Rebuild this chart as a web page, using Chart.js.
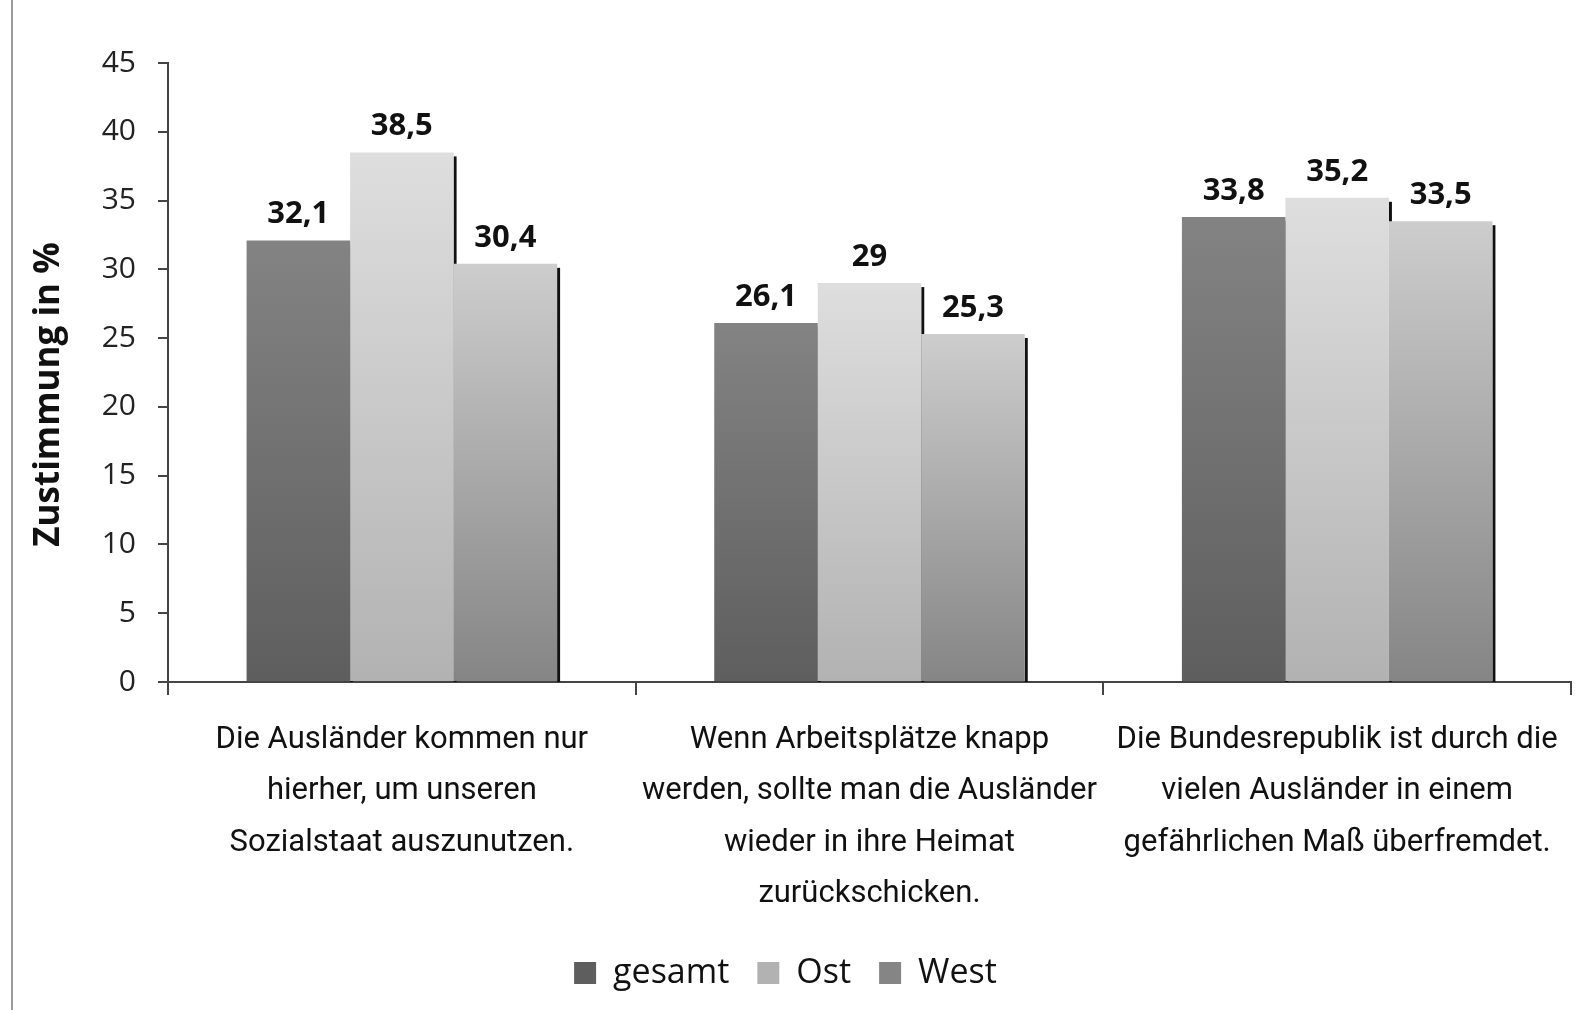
<!DOCTYPE html>
<html>
<head>
<meta charset="utf-8">
<script src="https://cdn.jsdelivr.net/npm/chart.js@4.4.1/dist/chart.umd.min.js"></script>
<style>
  html, body { margin: 0; padding: 0; background: #fff; }
  #wrap { position: relative; width: 1575px; height: 1010px; }
</style>
</head>
<body>
<div id="wrap"><canvas id="chart"></canvas></div>
<script>
const categories = [
  ['Die Ausländer kommen nur', 'hierher, um unseren', 'Sozialstaat auszunutzen.'],
  ['Wenn Arbeitsplätze knapp', 'werden, sollte man die Ausländer', 'wieder in ihre Heimat', 'zurückschicken.'],
  ['Die Bundesrepublik ist durch die', 'vielen Ausländer in einem', 'gefährlichen Maß überfremdet.'],
];
const seriesNames = ['gesamt', 'Ost', 'West'];
const gesamt = [32.1, 26.1, 33.8];
const ost = [38.5, 29, 35.2];
const west = [30.4, 25.3, 33.5];
const yTicks = [0, 5, 10, 15, 20, 25, 30, 35, 40, 45];
const yTitle = 'Zustimmung in %';

// top / bottom / flat shades of the bars
const shades = [
  ['#838383', '#5e5e5e', '#6c6c6c'],
  ['#dedede', '#b2b2b2', '#d2d2d2'],
  ['#cdcdcd', '#858585', '#a8a8a8'],
];

const mainFont = '"Open Sans", "Noto Sans", sans-serif';
const narrowFont = 'Roboto, "Open Sans", sans-serif';

function barFill(idx) {
  return (ctx) => {
    const [top, bottom, mid] = shades[idx];
    if (ctx.type !== 'data') return mid;
    const y = ctx.chart.scales.y;
    if (!y) return mid;
    const y0 = y.getPixelForValue(ctx.raw);
    const y1 = y.getPixelForValue(0);
    if (!isFinite(y0) || !isFinite(y1) || y0 === y1) return mid;
    const g = ctx.chart.ctx.createLinearGradient(0, y0, 0, y1);
    g.addColorStop(0, top);
    g.addColorStop(1, bottom);
    return g;
  };
}

const frameLine = {
  id: 'frameLine',
  beforeDraw(chart) {
    const c = chart.ctx;
    c.save();
    c.strokeStyle = '#9a9a9a';
    c.lineWidth = 2;
    c.beginPath();
    c.moveTo(12, 0);
    c.lineTo(12, chart.height);
    c.stroke();
    c.restore();
  },
};

// dark shadow on the right side of every bar, painted before all bars
const barShadow = {
  id: 'barShadow',
  beforeDatasetsDraw(chart) {
    const c = chart.ctx;
    c.save();
    c.fillStyle = '#111';
    chart.data.datasets.forEach((ds, i) => {
      chart.getDatasetMeta(i).data.forEach((bar) => {
        const p = bar.getProps(['x', 'y', 'base', 'width'], true);
        c.fillRect(p.x + p.width / 2, p.y + 4, 3, p.base - p.y - 3);
      });
    });
    c.restore();
  },
};

const valueLabels = {
  id: 'valueLabels',
  afterDatasetsDraw(chart) {
    const c = chart.ctx;
    c.save();
    c.font = 'bold 31px ' + mainFont;
    c.fillStyle = '#111';
    c.textAlign = 'center';
    c.textBaseline = 'alphabetic';
    chart.data.datasets.forEach((ds, i) => {
      chart.getDatasetMeta(i).data.forEach((bar, j) => {
        const txt = String(ds.data[j]).replace('.', ',');
        c.fillText(txt, bar.x, bar.y - 17);
      });
    });
    c.restore();
  },
};

// axis title, sits a little below the middle of the axis like the original
const axisTitle = {
  id: 'axisTitle',
  afterDraw(chart) {
    const c = chart.ctx;
    const area = chart.chartArea;
    c.save();
    c.translate(49, (area.top + area.bottom) / 2 + 22);
    c.rotate(-Math.PI / 2);
    c.font = 'bold 35px ' + mainFont;
    c.fillStyle = '#111';
    c.textAlign = 'center';
    c.textBaseline = 'middle';
    c.fillText(yTitle, 0, 0);
    c.restore();
  },
};

new Chart(document.getElementById('chart'), {
  type: 'bar',
  data: {
    labels: categories,
    datasets: [
      { label: seriesNames[0], data: gesamt, backgroundColor: barFill(0) },
      { label: seriesNames[1], data: ost, backgroundColor: barFill(1) },
      { label: seriesNames[2], data: west, backgroundColor: barFill(2) },
    ],
  },
  options: {
    responsive: true,
    maintainAspectRatio: false,
    animation: false,
    devicePixelRatio: 1,
    datasets: { bar: { barPercentage: 1, categoryPercentage: 0.664, borderWidth: 0 } },
    layout: { padding: { left: 0, right: 4, top: 63, bottom: 10 } },
    plugins: {
      tooltip: { enabled: false },
      legend: {
        position: 'bottom',
        labels: {
          font: { family: mainFont, size: 34 },
          color: '#111',
          boxWidth: 22,
          boxHeight: 22,
          padding: 28,
        },
      },
    },
    scales: {
      x: {
        offset: true,
        grid: { display: true, drawOnChartArea: false, offset: true, tickLength: 13, color: '#444', lineWidth: 2 },
        border: { color: '#444', width: 2 },
        ticks: {
          autoSkip: false,
          maxRotation: 0,
          minRotation: 0,
          padding: 20,
          color: '#111',
          font: { family: narrowFont, size: 31, lineHeight: 1.65 },
        },
        afterFit(scale) {
          scale.height = 246;
          scale.paddingLeft = 0;
          scale.paddingRight = 0;
        },
      },
      y: {
        min: 0,
        max: 45,
        afterBuildTicks(scale) { scale.ticks = yTicks.map((v) => ({ value: v })); },
        grid: { display: true, drawOnChartArea: false, tickLength: 10, color: '#444', lineWidth: 2 },
        border: { color: '#444', width: 2 },
        ticks: {
          padding: 22,
          color: '#222',
          font: { family: mainFont, size: 30 },
        },
        afterFit(scale) { scale.width = 168; },
      },
    },
  },
  plugins: [frameLine, barShadow, valueLabels, axisTitle],
});
</script>
</body>
</html>
